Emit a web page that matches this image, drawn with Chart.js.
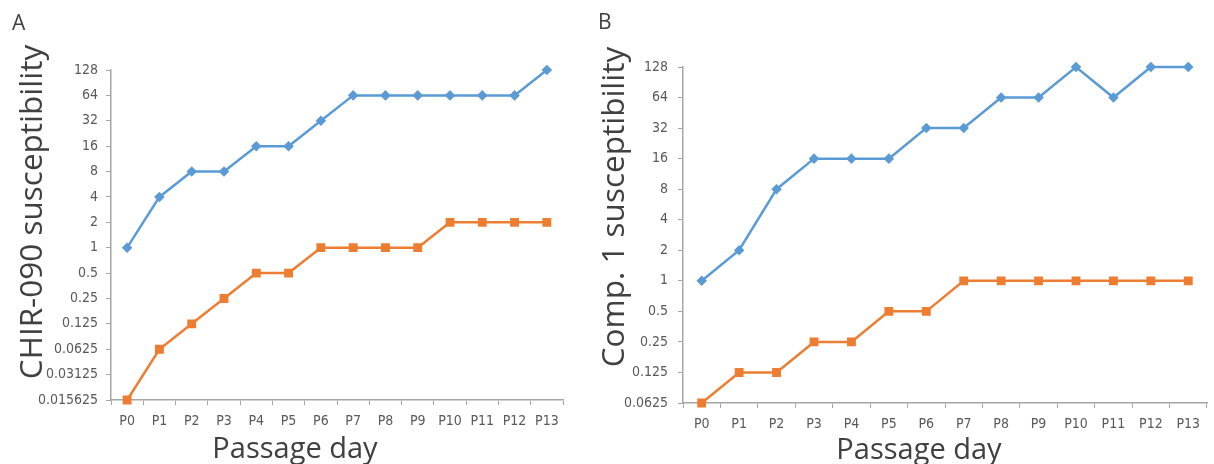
<!DOCTYPE html>
<html>
<head>
<meta charset="utf-8">
<script src="https://cdn.jsdelivr.net/npm/chart.js@4/dist/chart.umd.min.js"></script>
<style>
  body { margin: 0; background: #fff; width: 1214px; height: 464px; overflow: hidden; position: relative; }
  .panel { position: absolute; top: 0; height: 464px; }
  .txt { position: absolute; white-space: nowrap; color: #404040; font-family: "Open Sans", "Noto Sans", sans-serif; }
  .rot { transform: translate(-50%, -50%) rotate(-90deg); }
  .ctr { transform: translate(-50%, -50%); }
</style>
</head>
<body>
<div class="panel" style="left:0;width:590px"><canvas id="chartA"></canvas></div>
<div class="panel" style="left:590px;width:624px"><canvas id="chartB"></canvas></div>

<div class="txt" style="left:12px;top:8px;font-size:21px">A</div>
<div class="txt" style="left:598px;top:7px;font-size:21px">B</div>
<div class="txt rot" style="left:29px;top:212px;font-size:31.5px">CHIR-090 susceptibility</div>
<div class="txt rot" style="left:611px;top:207px;font-size:31.5px">Comp. 1 susceptibility</div>
<div class="txt ctr" style="left:295px;top:446px;font-size:29px">Passage day</div>
<div class="txt ctr" style="left:919px;top:447px;font-size:29px">Passage day</div>

<script>
// 传代天数
const passages = ['P0', 'P1', 'P2', 'P3', 'P4', 'P5', 'P6', 'P7', 'P8', 'P9', 'P10', 'P11', 'P12', 'P13'];

// A: CHIR-090
const chirBlue   = [1, 4, 8, 8, 16, 16, 32, 64, 64, 64, 64, 64, 64, 128];
const chirOrange = [0.015625, 0.0625, 0.125, 0.25, 0.5, 0.5, 1, 1, 1, 1, 2, 2, 2, 2];
const chirTicks  = [0.015625, 0.03125, 0.0625, 0.125, 0.25, 0.5, 1, 2, 4, 8, 16, 32, 64, 128];

// B: Comp. 1
const compBlue   = [1, 2, 8, 16, 16, 16, 32, 32, 64, 64, 128, 64, 128, 128];
const compOrange = [0.0625, 0.125, 0.125, 0.25, 0.25, 0.5, 0.5, 1, 1, 1, 1, 1, 1, 1];
const compTicks  = [0.0625, 0.125, 0.25, 0.5, 1, 2, 4, 8, 16, 32, 64, 128];

const BLUE = '#5B9BD5';
const ORANGE = '#ED7D31';
const tickFont = { family: '"Liberation Sans Narrow", "DejaVu Sans Condensed", sans-serif', size: 14 };

function makeChart(id, blue, orange, yTicks, box) {
    const ctx = document.getElementById(id).getContext('2d');
    return new Chart(ctx, {
        type: 'line',
        data: {
            labels: passages,
            datasets: [
                {
                    data: blue,
                    borderColor: BLUE,
                    backgroundColor: BLUE,
                    borderWidth: 2.5,
                    pointStyle: 'rectRot',
                    pointRadius: 3.5,
                    tension: 0,
                    clip: false
                },
                {
                    data: orange,
                    borderColor: ORANGE,
                    backgroundColor: ORANGE,
                    borderWidth: 2.5,
                    pointStyle: 'rect',
                    pointRadius: 4.5,
                    tension: 0,
                    clip: false
                }
            ]
        },
        options: {
            responsive: true,
            maintainAspectRatio: false,
            animation: false,
            layout: { padding: { left: 0, top: box.top, right: box.right, bottom: 0 } },
            plugins: { legend: { display: false }, tooltip: { enabled: false } },
            scales: {
                x: {
                    offset: true,
                    grid: { offset: true, drawOnChartArea: false, tickLength: 5, color: '#a6a6a6' },
                    border: { color: '#a6a6a6', width: 1.5 },
                    ticks: { color: '#595959', font: tickFont, padding: 8, maxRotation: 0, autoSkip: false },
                    afterFit(scale) { scale.height = box.xHeight; }
                },
                y: {
                    type: 'logarithmic',
                    min: yTicks[0],
                    max: yTicks[yTicks.length - 1],
                    grid: { drawOnChartArea: false, tickLength: 5, color: '#a6a6a6' },
                    border: { color: '#a6a6a6', width: 1.5 },
                    ticks: {
                        color: '#595959',
                        font: tickFont,
                        padding: box.yPad,
                        callback: (v) => String(v)
                    },
                    afterBuildTicks(scale) { scale.ticks = yTicks.map(v => ({ value: v })); },
                    afterFit(scale) { scale.width = box.yWidth; }
                }
            }
        }
    });
}

makeChart('chartA', chirBlue, chirOrange, chirTicks, { top: 70, right: 27, xHeight: 64, yWidth: 111, yPad: 8 });
makeChart('chartB', compBlue, compOrange, compTicks, { top: 67, right: 1, xHeight: 61, yWidth: 93, yPad: 10 });
</script>
</body>
</html>
